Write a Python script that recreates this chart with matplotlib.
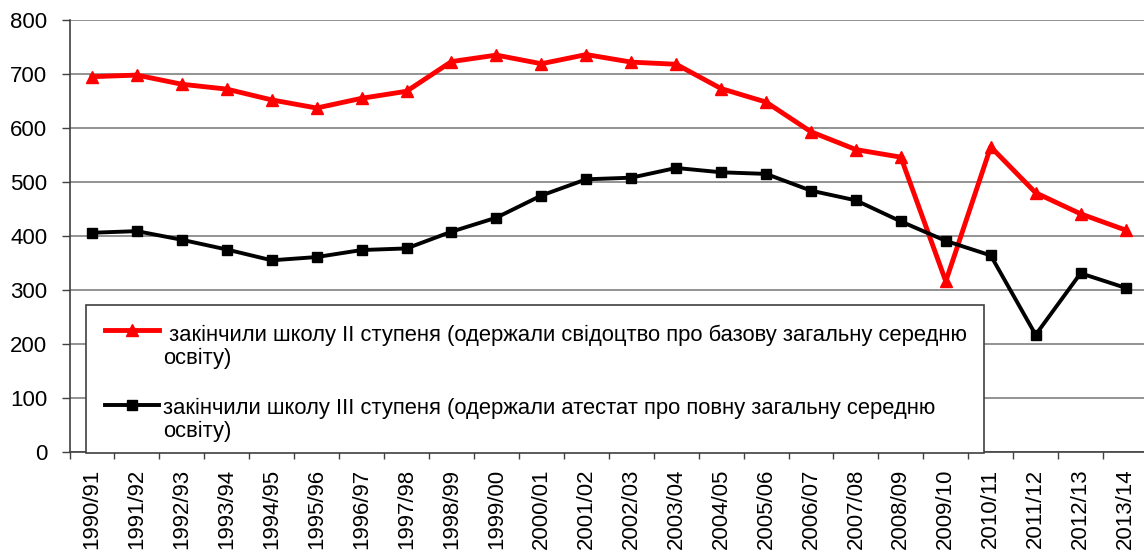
# Graduates of school stages II and III, 1990/91 - 2013/14
import matplotlib
matplotlib.use('Agg')
import matplotlib.pyplot as plt
from matplotlib.lines import Line2D
from matplotlib.patches import Rectangle

plt.rcParams['font.family'] = ['Liberation Sans', 'DejaVu Sans']

# school years
years = ['1990/91', '1991/92', '1992/93', '1993/94', '1994/95', '1995/96',
         '1996/97', '1997/98', '1998/99', '1999/00', '2000/01', '2001/02',
         '2002/03', '2003/04', '2004/05', '2005/06', '2006/07', '2007/08',
         '2008/09', '2009/10', '2010/11', '2011/12', '2012/13', '2013/14']

# finished stage II school (basic secondary certificate)
stage2 = [695, 698, 681, 672, 652, 637, 655, 668, 723, 735, 719, 736,
          722, 718, 673, 648, 593, 560, 546, 316, 565, 480, 441, 411]

# finished stage III school (complete secondary certificate)
stage3 = [406, 409, 393, 375, 355, 361, 374, 377, 408, 434, 475, 505,
          508, 526, 518, 515, 484, 466, 427, 391, 364, 217, 331, 304]

label2 = ' закінчили школу II ступеня (одержали свідоцтво про базову загальну середню\nосвіту)'
label3 = 'закінчили школу III ступеня (одержали атестат про повну загальну середню\nосвіту)'

W, H = 1144, 550
fig = plt.figure(figsize=(W / 100, H / 100), dpi=100)
ax = fig.add_axes([69.5 / W, 98 / H, (1148 - 69.5) / W, 432 / H])

x = list(range(len(years)))
ax.plot(x, stage2, color='#ff0000', lw=3.5, marker='^', ms=8, zorder=3)
ax.plot(x, stage3, color='black', lw=2.8, marker='s', ms=7, zorder=3)

ax.set_xlim(-0.5, len(years) - 0.5)
ax.set_ylim(0, 800)
ax.set_yticks(range(0, 801, 100))
ax.yaxis.grid(True, color='#808080', lw=1.2)
ax.set_axisbelow(True)

ax.set_xticks(x)
ax.set_xticklabels(years, rotation=90, fontsize=16)
ax.set_xticks([i - 0.5 for i in range(len(years) + 1)], minor=True)
ax.tick_params(axis='x', which='major', length=0, pad=12)
ax.tick_params(axis='x', which='minor', length=5, width=1, color='#404040')
ax.tick_params(axis='y', length=6, width=1, color='#404040', pad=10, labelsize=16)

for s in ['top', 'right']:
    ax.spines[s].set_visible(False)
ax.spines['left'].set_color('#404040')
ax.spines['bottom'].set_color('#404040')
ax.spines['left'].set_linewidth(1.2)
ax.spines['bottom'].set_linewidth(1.2)

# legend box drawn by hand so handles sit on the first text line
def fx(px):
    return px / W

def fy(py):
    return 1 - py / H

fig.add_artist(Rectangle((fx(86), fy(453)), fx(984) - fx(86), fy(305) - fy(453),
                         transform=fig.transFigure, facecolor='white',
                         edgecolor='#404040', lw=1.2, zorder=5))
for yy, col, mk, lw, ms in [(330, '#ff0000', '^', 3.5, 8), (405, 'black', 's', 2.8, 7)]:
    fig.add_artist(Line2D([fx(105), fx(159)], [fy(yy), fy(yy)], color=col, lw=lw,
                          transform=fig.transFigure, zorder=6))
    fig.add_artist(Line2D([fx(132)], [fy(yy)], color=col, marker=mk, ms=ms,
                          transform=fig.transFigure, zorder=6))
# va='baseline' on two-line text anchors the last line
fig.text(fx(163), fy(364), label2, fontsize=15.8, va='baseline', ha='left',
         linespacing=1.12, zorder=7)
fig.text(fx(163), fy(437), label3, fontsize=15.8, va='baseline', ha='left',
         linespacing=1.12, zorder=7)

fig.savefig('out.png', dpi=100)
